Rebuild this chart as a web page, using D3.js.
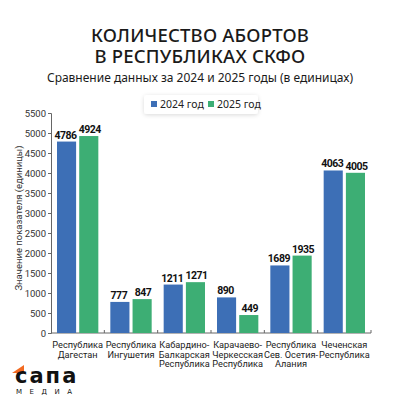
<!DOCTYPE html>
<html>
<head>
<meta charset="utf-8">
<script src="https://cdn.jsdelivr.net/npm/d3@7"></script>
<style>
    body { margin: 0; background: #fff; }
    svg { display: block; }
</style>
</head>
<body>
<div class="canvas"></div>
<script>
    const regions = [
        ["Республика", "Дагестан"],
        ["Республика", "Ингушетия"],
        ["Кабардино-", "Балкарская", "Республика"],
        ["Карачаево-", "Черкесская", "Республика"],
        ["Республика", "Сев. Осетия-", "Алания"],
        ["Чеченская", "Республика"]
    ];
    const years = ["2024 год", "2025 год"];
    const values2024 = [4786, 777, 1211, 890, 1689, 4063];
    const values2025 = [4924, 847, 1271, 449, 1935, 4005];
    const yTicks = [0, 500, 1000, 1500, 2000, 2500, 3000, 3500, 4000, 4500, 5000, 5500];

    (function () {
        const width = 400;
        const height = 400;
        const colors = ["#3d6fb6", "#3dae74"];
        const AXIS_LEFT = 51;
        const AXIS_RIGHT = 371;
        const BASELINE = 333;
        const TOP = 113;

        const svg = d3.select(".canvas").append("svg")
            .attr("width", width)
            .attr("height", height);

        const defs = svg.append("defs");
        const shadow = defs.append("filter").attr("id", "shadow")
            .attr("x", "-20%").attr("y", "-40%").attr("width", "140%").attr("height", "180%");
        shadow.append("feDropShadow").attr("dx", 0).attr("dy", 1).attr("stdDeviation", 2)
            .attr("flood-color", "#000").attr("flood-opacity", 0.15);

        // titles
        svg.append("text")
            .attr("x", 200).attr("y", 42)
            .attr("text-anchor", "middle")
            .style("font", "500 18.5px 'Noto Sans', sans-serif")
            .style("letter-spacing", "0.2px")
            .style("fill", "#1a1a1a")
            .text("КОЛИЧЕСТВО АБОРТОВ");
        svg.append("text")
            .attr("x", 200).attr("y", 63)
            .attr("text-anchor", "middle")
            .style("font", "500 18.5px 'Noto Sans', sans-serif")
            .style("letter-spacing", "0.2px")
            .style("fill", "#1a1a1a")
            .text("В РЕСПУБЛИКАХ СКФО");
        svg.append("text")
            .attr("x", 200).attr("y", 82)
            .attr("text-anchor", "middle")
            .style("font", "12px 'Noto Sans', sans-serif")
            .style("fill", "#1a1a1a")
            .text("Сравнение данных за 2024 и 2025 годы (в единицах)");

        // legend
        const legend = svg.append("g");
        legend.append("rect")
            .attr("x", 144).attr("y", 95).attr("width", 114).attr("height", 19)
            .attr("rx", 3)
            .style("fill", "#fff")
            .attr("filter", "url(#shadow)");
        const legendX = [151, 208];
        years.forEach(function (y, i) {
            legend.append("rect")
                .attr("x", legendX[i]).attr("y", 101)
                .attr("width", 6).attr("height", 6)
                .style("fill", colors[i]);
            legend.append("text")
                .attr("x", legendX[i] + 9).attr("y", 108)
                .style("font", "10.5px 'Noto Sans', sans-serif")
                .style("fill", "#222")
                .text(y);
        });

        const x0 = d3.scaleBand()
            .domain(d3.range(regions.length))
            .range([AXIS_LEFT, AXIS_RIGHT])
            .paddingInner(0)
            .paddingOuter(0);
        const x1 = d3.scaleBand()
            .domain([0, 1])
            .range([6, x0.bandwidth() - 6])
            .paddingInner(0.14);
        const y = d3.scaleLinear().domain([0, 5500]).range([BASELINE, TOP]);

        // y axis
        const yAxis = svg.append("g")
            .attr("transform", "translate(" + AXIS_LEFT + ",0)")
            .call(d3.axisLeft(y).tickValues(yTicks).tickFormat(d3.format("d")).tickSize(3).tickPadding(2));
        yAxis.selectAll("text")
            .style("font", "9.5px Roboto, sans-serif")
            .style("fill", "#333");
        yAxis.selectAll("line, path").style("stroke", "#666");

        // x axis
        const xAxis = svg.append("g")
            .attr("transform", "translate(0," + BASELINE + ")");
        xAxis.append("line")
            .attr("x1", AXIS_LEFT).attr("x2", AXIS_RIGHT)
            .style("stroke", "#666");
        xAxis.selectAll("line.tick")
            .data(d3.range(1, regions.length + 1))
            .enter().append("line")
            .attr("class", "tick")
            .attr("x1", function (d) { return AXIS_LEFT + d * x0.bandwidth(); })
            .attr("x2", function (d) { return AXIS_LEFT + d * x0.bandwidth(); })
            .attr("y1", -3).attr("y2", 0)
            .style("stroke", "#666");

        svg.append("text")
            .attr("transform", "translate(22," + ((TOP + BASELINE) / 2 - 5) + ") rotate(-90)")
            .attr("text-anchor", "middle")
            .style("font", "9.5px Roboto, sans-serif")
            .style("fill", "#333")
            .text("Значение показателя (единицы)");

        const series = [values2024, values2025];
        const groups = svg.selectAll("g.group")
            .data(regions)
            .enter().append("g")
            .attr("class", "group")
            .attr("transform", function (d, i) { return "translate(" + x0(i) + ",0)"; });

        groups.selectAll("rect")
            .data(function (d, i) { return series.map(function (s, k) { return { k: k, v: s[i] }; }); })
            .enter().append("rect")
            .attr("x", function (d) { return x1(d.k); })
            .attr("y", function (d) { return y(d.v); })
            .attr("width", x1.bandwidth())
            .attr("height", function (d) { return BASELINE - y(d.v); })
            .style("fill", function (d) { return colors[d.k]; });

        groups.selectAll("text.val")
            .data(function (d, i) { return series.map(function (s, k) { return { k: k, v: s[i] }; }); })
            .enter().append("text")
            .attr("class", "val")
            .attr("x", function (d) { return x1(d.k) + x1.bandwidth() / 2 + (d.k === 0 ? -1 : 1); })
            .attr("y", function (d) { return y(d.v) - 3; })
            .attr("text-anchor", "middle")
            .style("font", "bold 10.5px Roboto, sans-serif")
            .style("letter-spacing", "-0.5px")
            .style("fill", "#111")
            .text(function (d) { return d.v; });

        groups.selectAll("text.cat")
            .data(function (d) { return d; })
            .enter().append("text")
            .attr("class", "cat")
            .attr("x", x0.bandwidth() / 2)
            .attr("y", function (d, i) { return 348 + i * 9.7; })
            .attr("text-anchor", "middle")
            .style("font", "9.2px Roboto, sans-serif")
            .style("fill", "#222")
            .text(function (d) { return d; });

        // logo
        const logo = svg.append("g");
        logo.append("path")
            .attr("d", "M12,373 L24,365 L24,373 Z")
            .style("fill", "#f26a21");
        logo.append("text")
            .attr("x", 15).attr("y", 383)
            .style("font", "900 21px 'DejaVu Sans', sans-serif")
            .style("letter-spacing", "2px")
            .style("fill", "#111")
            .text("сапа");
        logo.append("text")
            .attr("x", 16).attr("y", 394)
            .style("font", "7px 'DejaVu Sans', sans-serif")
            .style("letter-spacing", "7.5px")
            .style("fill", "#111")
            .text("МЕДИА");
    })();
</script>
</body>
</html>
